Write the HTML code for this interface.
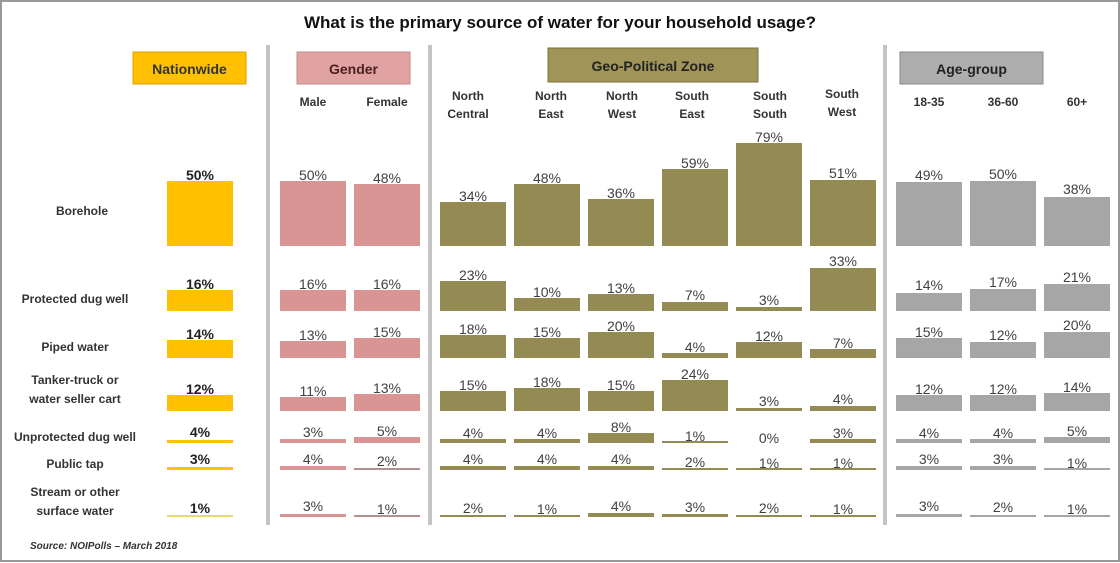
<!DOCTYPE html>
<html><head><meta charset="utf-8"><style>
html,body{margin:0;padding:0;background:#fff;}
svg{display:block;font-family:"Liberation Sans",sans-serif;}
.v{font-size:14px;fill:#404040;text-anchor:middle;}
.nb{font-weight:bold;fill:#222;}
.h{font-size:12px;font-weight:bold;fill:#333;text-anchor:middle;}
.r{font-size:12px;font-weight:bold;fill:#333;text-anchor:middle;}
</style></head><body>
<svg width="1120" height="563" viewBox="0 0 1120 563">
<rect x="1" y="1" width="1118" height="560" fill="#fff" stroke="#9a9a9a" stroke-width="2"/>
<text x="560" y="28" font-size="17" font-weight="bold" fill="#111" text-anchor="middle">What is the primary source of water for your household usage?</text>
<g fill="#c3c3c3"><rect x="266" y="45" width="4" height="480"/><rect x="428" y="45" width="4" height="480"/><rect x="883" y="45" width="4" height="480"/></g>
<rect x="133" y="52" width="113" height="32" fill="#FFC000" stroke="#d9a000"/>
<text x="189.5" y="74" class="h" style="font-size:14px">Nationwide</text>
<rect x="297" y="52" width="113" height="32" fill="#E0A3A2" stroke="#c28786"/>
<text x="353.5" y="74" class="h" style="font-size:14px;fill:#4a2020">Gender</text>
<rect x="548" y="48" width="210" height="34" fill="#A09458" stroke="#7a7040"/>
<text x="653" y="71" class="h" style="font-size:14px;fill:#222">Geo-Political Zone</text>
<rect x="900" y="52" width="143" height="32" fill="#ADADAD" stroke="#888"/>
<text x="971.5" y="74" class="h" style="font-size:14px;fill:#222">Age-group</text>
<text class="h" x="313" y="106">Male</text><text class="h" x="387" y="106">Female</text>
<text class="h" x="468" y="100">North</text><text class="h" x="468" y="118">Central</text>
<text class="h" x="551" y="100">North</text><text class="h" x="551" y="118">East</text>
<text class="h" x="622" y="100">North</text><text class="h" x="622" y="118">West</text>
<text class="h" x="692" y="100">South</text><text class="h" x="692" y="118">East</text>
<text class="h" x="770" y="100">South</text><text class="h" x="770" y="118">South</text>
<text class="h" x="842" y="98">South</text><text class="h" x="842" y="116">West</text>
<text class="h" x="929" y="106">18-35</text><text class="h" x="1003" y="106">36-60</text><text class="h" x="1077" y="106">60+</text>
<text class="r" x="82" y="215">Borehole</text>
<text class="r" x="75" y="303">Protected dug well</text>
<text class="r" x="75" y="351">Piped water</text>
<text class="r" x="75" y="384">Tanker-truck or</text><text class="r" x="75" y="403">water seller cart</text>
<text class="r" x="75" y="441">Unprotected dug well</text>
<text class="r" x="75" y="468">Public tap</text>
<text class="r" x="75" y="496">Stream or other</text><text class="r" x="75" y="515">surface water</text>
<text x="30" y="549" font-size="10" font-style="italic" font-weight="bold" fill="#333">Source: NOIPolls – March 2018</text>

<g transform="translate(200,0)" fill="#FFC000"><g>
<rect x="-33" y="181" width="66" height="65"/><rect x="-33" y="290" width="66" height="21"/><rect x="-33" y="340" width="66" height="18"/><rect x="-33" y="395" width="66" height="16"/><rect x="-33" y="440" width="66" height="3"/><rect x="-33" y="467" width="66" height="3"/><rect x="-33" y="515" width="66" height="2" fill="#e8d870"/></g>
<g class="v nb"><text y="180">50%</text><text y="289">16%</text><text y="339">14%</text><text y="394">12%</text><text y="437">4%</text><text y="464">3%</text><text y="513">1%</text></g></g>

<g transform="translate(313,0)" fill="#D99594"><rect x="-33" y="181" width="66" height="65"/><rect x="-33" y="290" width="66" height="21"/><rect x="-33" y="341" width="66" height="17"/><rect x="-33" y="397" width="66" height="14"/><rect x="-33" y="439" width="66" height="4"/><rect x="-33" y="466" width="66" height="4"/><rect x="-33" y="514" width="66" height="3"/>
<g class="v"><text y="180">50%</text><text y="289">16%</text><text y="340">13%</text><text y="396">11%</text><text y="437">3%</text><text y="464">4%</text><text y="511">3%</text></g></g>
<g transform="translate(387,0)" fill="#D99594"><rect x="-33" y="184" width="66" height="62"/><rect x="-33" y="290" width="66" height="21"/><rect x="-33" y="338" width="66" height="20"/><rect x="-33" y="394" width="66" height="17"/><rect x="-33" y="437" width="66" height="6"/><rect x="-33" y="468" width="66" height="2" fill="#b09090"/><rect x="-33" y="515" width="66" height="2" fill="#b09090"/>
<g class="v"><text y="183">48%</text><text y="289">16%</text><text y="337">15%</text><text y="393">13%</text><text y="436">5%</text><text y="466">2%</text><text y="514">1%</text></g></g>

<g fill="#948A54">
<g transform="translate(473,0)"><rect x="-33" y="202" width="66" height="44"/><rect x="-33" y="281" width="66" height="30"/><rect x="-33" y="335" width="66" height="23"/><rect x="-33" y="391" width="66" height="20"/><rect x="-33" y="439" width="66" height="4"/><rect x="-33" y="466" width="66" height="4"/><rect x="-33" y="515" width="66" height="2"/>
<g class="v"><text y="201">34%</text><text y="280">23%</text><text y="334">18%</text><text y="390">15%</text><text y="438">4%</text><text y="464">4%</text><text y="513">2%</text></g></g>
<g transform="translate(547,0)"><rect x="-33" y="184" width="66" height="62"/><rect x="-33" y="298" width="66" height="13"/><rect x="-33" y="338" width="66" height="20"/><rect x="-33" y="388" width="66" height="23"/><rect x="-33" y="439" width="66" height="4"/><rect x="-33" y="466" width="66" height="4"/><rect x="-33" y="515" width="66" height="2"/>
<g class="v"><text y="183">48%</text><text y="297">10%</text><text y="337">15%</text><text y="387">18%</text><text y="438">4%</text><text y="464">4%</text><text y="514">1%</text></g></g>
<g transform="translate(621,0)"><rect x="-33" y="199" width="66" height="47"/><rect x="-33" y="294" width="66" height="17"/><rect x="-33" y="332" width="66" height="26"/><rect x="-33" y="391" width="66" height="20"/><rect x="-33" y="433" width="66" height="10"/><rect x="-33" y="466" width="66" height="4"/><rect x="-33" y="513" width="66" height="4"/>
<g class="v"><text y="198">36%</text><text y="293">13%</text><text y="331">20%</text><text y="390">15%</text><text y="432">8%</text><text y="464">4%</text><text y="511">4%</text></g></g>
<g transform="translate(695,0)"><rect x="-33" y="169" width="66" height="77"/><rect x="-33" y="302" width="66" height="9"/><rect x="-33" y="353" width="66" height="5"/><rect x="-33" y="380" width="66" height="31"/><rect x="-33" y="441" width="66" height="2"/><rect x="-33" y="468" width="66" height="2"/><rect x="-33" y="514" width="66" height="3"/>
<g class="v"><text y="168">59%</text><text y="300">7%</text><text y="352">4%</text><text y="379">24%</text><text y="441">1%</text><text y="467">2%</text><text y="512">3%</text></g></g>
<g transform="translate(769,0)"><rect x="-33" y="143" width="66" height="103"/><rect x="-33" y="307" width="66" height="4"/><rect x="-33" y="342" width="66" height="16"/><rect x="-33" y="408" width="66" height="3"/><rect x="-33" y="468" width="66" height="2"/><rect x="-33" y="515" width="66" height="2"/>
<g class="v"><text y="142">79%</text><text y="305">3%</text><text y="341">12%</text><text y="406">3%</text><text y="443">0%</text><text y="468">1%</text><text y="513">2%</text></g></g>
<g transform="translate(843,0)"><rect x="-33" y="180" width="66" height="66"/><rect x="-33" y="268" width="66" height="43"/><rect x="-33" y="349" width="66" height="9"/><rect x="-33" y="406" width="66" height="5"/><rect x="-33" y="439" width="66" height="4"/><rect x="-33" y="468" width="66" height="2"/><rect x="-33" y="515" width="66" height="2"/>
<g class="v"><text y="178">51%</text><text y="266">33%</text><text y="348">7%</text><text y="404">4%</text><text y="438">3%</text><text y="468">1%</text><text y="514">1%</text></g></g>
</g>

<g fill="#A6A6A6">
<g transform="translate(929,0)"><rect x="-33" y="182" width="66" height="64"/><rect x="-33" y="293" width="66" height="18"/><rect x="-33" y="338" width="66" height="20"/><rect x="-33" y="395" width="66" height="16"/><rect x="-33" y="439" width="66" height="4"/><rect x="-33" y="466" width="66" height="4"/><rect x="-33" y="514" width="66" height="3"/>
<g class="v"><text y="180">49%</text><text y="290">14%</text><text y="337">15%</text><text y="394">12%</text><text y="438">4%</text><text y="464">3%</text><text y="511">3%</text></g></g>
<g transform="translate(1003,0)"><rect x="-33" y="181" width="66" height="65"/><rect x="-33" y="289" width="66" height="22"/><rect x="-33" y="342" width="66" height="16"/><rect x="-33" y="395" width="66" height="16"/><rect x="-33" y="439" width="66" height="4"/><rect x="-33" y="466" width="66" height="4"/><rect x="-33" y="515" width="66" height="2"/>
<g class="v"><text y="179">50%</text><text y="287">17%</text><text y="340">12%</text><text y="394">12%</text><text y="438">4%</text><text y="464">3%</text><text y="512">2%</text></g></g>
<g transform="translate(1077,0)"><rect x="-33" y="197" width="66" height="49"/><rect x="-33" y="284" width="66" height="27"/><rect x="-33" y="332" width="66" height="26"/><rect x="-33" y="393" width="66" height="18"/><rect x="-33" y="437" width="66" height="6"/><rect x="-33" y="468" width="66" height="2"/><rect x="-33" y="515" width="66" height="2"/>
<g class="v"><text y="194">38%</text><text y="282">21%</text><text y="330">20%</text><text y="392">14%</text><text y="436">5%</text><text y="468">1%</text><text y="514">1%</text></g></g>
</g>
</svg>
</body></html>
